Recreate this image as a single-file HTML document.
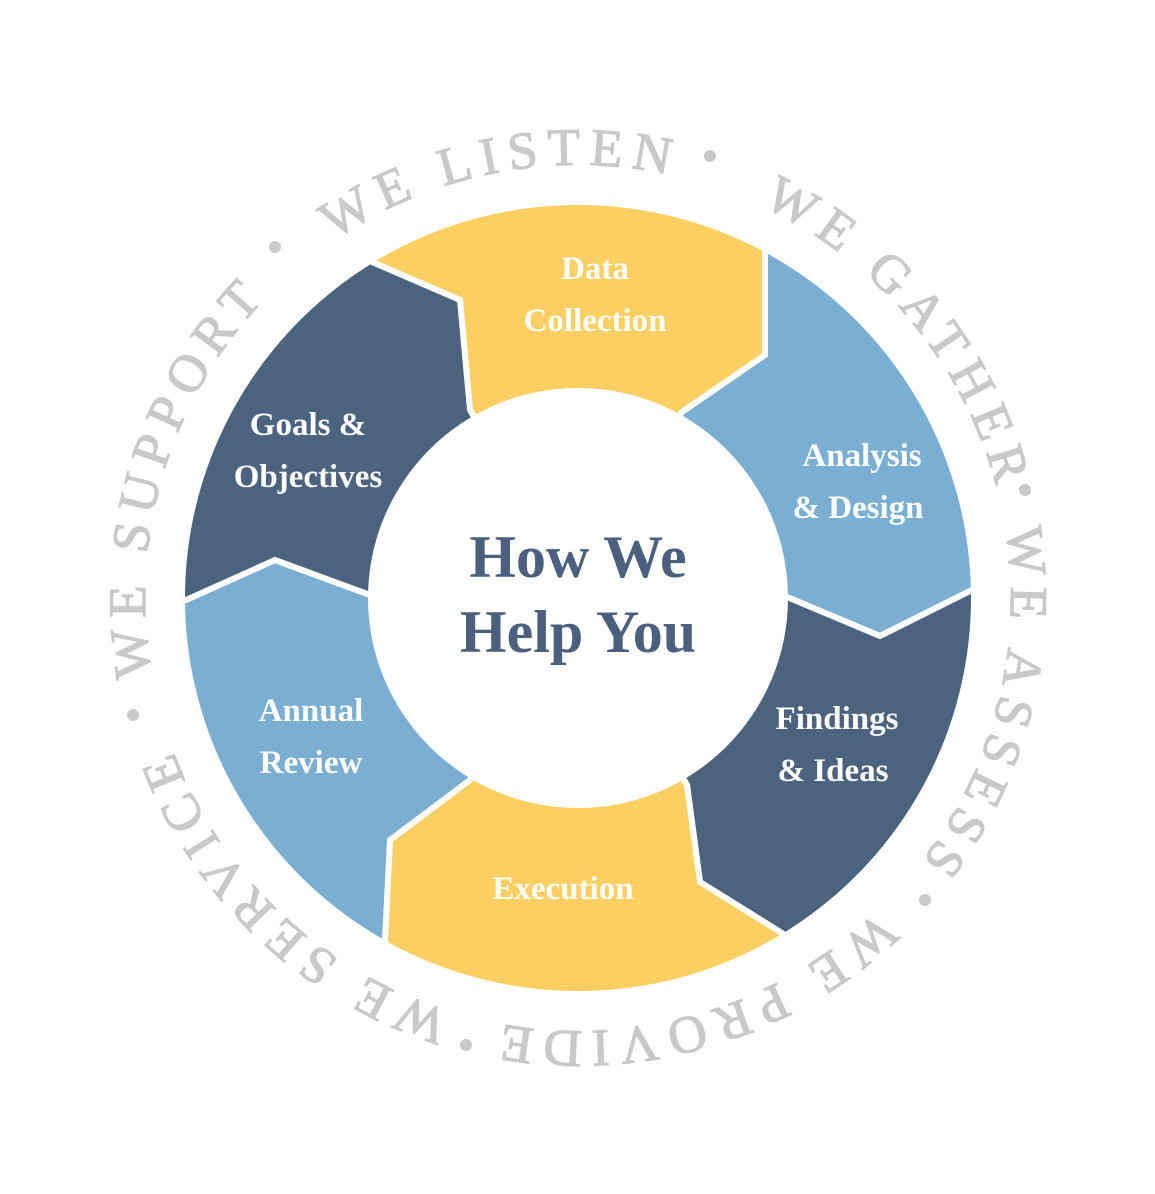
<!DOCTYPE html>
<html><head><style>
html,body{margin:0;padding:0;background:#fff;}
svg{display:block;}
</style></head><body>
<svg width="1155" height="1194" viewBox="0 0 1155 1194" xmlns="http://www.w3.org/2000/svg">
<defs>
<clipPath id="ring"><circle cx="578" cy="598" r="393"/></clipPath>
<path id="tp" d="M578,1031 A433,433 0 0 1 578,165 A433,433 0 0 1 578,1031 A433,433 0 0 1 578,165 A433,433 0 0 1 578,1031" fill="none"/>
</defs>
<g clip-path="url(#ring)" stroke="#fff" stroke-width="6" stroke-linejoin="miter">
<polygon fill="#FCCF62" points="578,598 470,410 460,300 372,262 253,60 877,41 765,250 765,355 682,412"/>
<polygon fill="#7BAED3" points="578,598 682,412 765,355 765,250 877,41 1208,585 972,590 880,636 787,597"/>
<polygon fill="#4B637F" points="578,598 787,597 880,636 972,590 1208,585 909,1137 785,935 700,882 687,785"/>
<polygon fill="#FCCF62" points="578,598 687,785 700,882 785,935 909,1137 274,1145 385,940 390,840 470,780"/>
<polygon fill="#7BAED3" points="578,598 470,780 390,840 385,940 274,1145 -51,601 186,600 275,560 370,595"/>
<polygon fill="#4B637F" points="578,598 370,595 275,560 186,600 -51,601 253,60 372,262 460,300 470,410"/>
</g>
<circle cx="578" cy="598" r="210" fill="#fff"/>
<g font-family="Liberation Serif, serif" font-weight="bold" fill="#fff" font-size="33" text-anchor="middle">
<text x="595" y="279">Data</text>
<text x="595" y="331">Collection</text>
<text x="862" y="466">Analysis</text>
<text x="858" y="518">&amp; Design</text>
<text x="837" y="729">Findings</text>
<text x="833" y="781">&amp; Ideas</text>
<text x="563" y="899">Execution</text>
<text x="311" y="721">Annual</text>
<text x="311" y="773">Review</text>
<text x="308" y="435">Goals &amp;</text>
<text x="308" y="487">Objectives</text>
</g>
<g font-family="Liberation Serif, serif" font-weight="bold" fill="#4B5F7E" font-size="60" text-anchor="middle">
<text x="578" y="577">How We</text>
<text x="578" y="652">Help You</text>
</g>
<g font-family="Liberation Serif, serif" fill="#C9C9C9" stroke="#C9C9C9" stroke-width="1.2" font-size="53" text-anchor="middle" letter-spacing="9">
<text><textPath href="#tp" startOffset="1280">WE LISTEN</textPath></text>
<text><textPath href="#tp" startOffset="1742">WE GATHER</textPath></text>
<text><textPath href="#tp" startOffset="2150">WE ASSESS</textPath></text>
<text><textPath href="#tp" startOffset="2596">WE PROVIDE</textPath></text>
<text><textPath href="#tp" startOffset="3050">WE SERVICE</textPath></text>
<text><textPath href="#tp" startOffset="3528">WE SUPPORT</textPath></text>
</g>
<g fill="#C9C9C9">
<circle cx="710" cy="156" r="6"/>
<circle cx="1025" cy="490" r="6"/>
<circle cx="925" cy="900" r="6"/>
<circle cx="466" cy="1045" r="6"/>
<circle cx="133" cy="715" r="6"/>
<circle cx="275" cy="247" r="6"/>
</g>
</svg>
</body></html>
